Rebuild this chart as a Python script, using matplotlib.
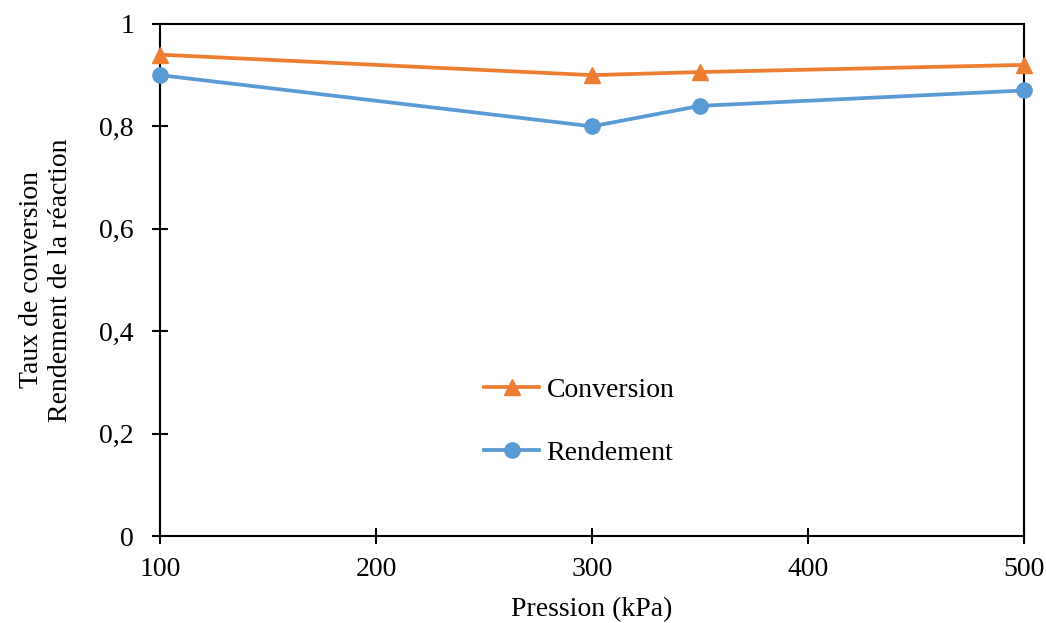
import matplotlib
matplotlib.use("Agg")
import matplotlib.pyplot as plt

pression = [100, 300, 350, 500]
conversion = [0.94, 0.90, 0.906, 0.92]
rendement = [0.90, 0.80, 0.84, 0.87]

x_ticks = [100, 200, 300, 400, 500]
y_ticks = [0, 0.2, 0.4, 0.6, 0.8, 1]
y_labels = ["0", "0,2", "0,4", "0,6", "0,8", "1"]

plt.rcParams['font.family'] = ['Liberation Serif', 'DejaVu Serif']
fs = 20

fig = plt.figure(figsize=(10.46, 6.23), dpi=100)
ax = fig.add_axes([0.153, 0.1396, 0.826, 0.822])

ax.plot(pression, conversion, color='#ED7D31', lw=2.7, marker='^', ms=11,
        label='Conversion', clip_on=False, zorder=3)
ax.plot(pression, rendement, color='#5B9BD5', lw=2.7, marker='o', ms=11,
        label='Rendement', clip_on=False, zorder=3)

ax.set_xlim(100, 500)
ax.set_ylim(0, 1)
ax.set_xticks(x_ticks)
ax.set_yticks(y_ticks)
ax.set_yticklabels(y_labels)
ax.tick_params(direction='inout', length=11.5, width=1.5, labelsize=fs,
               top=False, right=False)
ax.tick_params(axis='x', pad=9)
ax.tick_params(axis='y', pad=13)
for s in ax.spines.values():
    s.set_linewidth(1.5)

ax.set_xlabel('Pression (kPa)', fontsize=fs, labelpad=11)
ax.set_ylabel('Taux de conversion\nRendement de la réaction', fontsize=fs, labelpad=19)

ax.legend(loc='center', bbox_to_anchor=(0.485, 0.224), frameon=False,
          fontsize=fs, labelspacing=1.35, handlelength=2.0, handletextpad=0.25)

fig.savefig('out.png', dpi=100)
